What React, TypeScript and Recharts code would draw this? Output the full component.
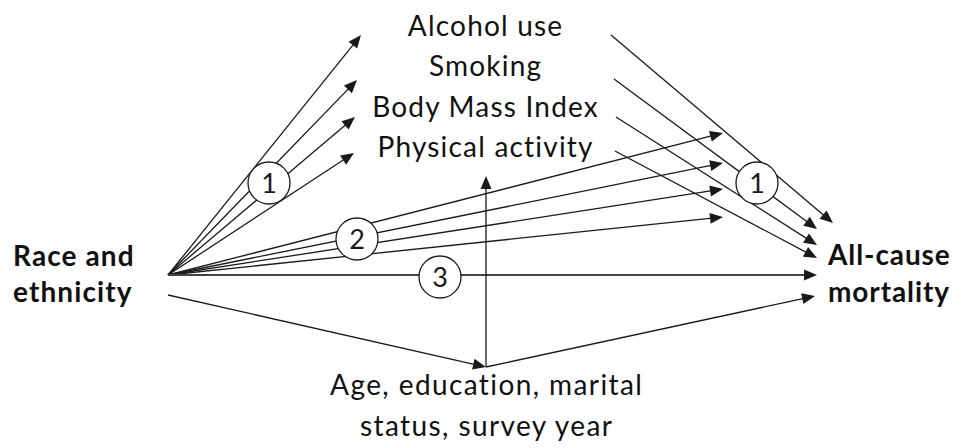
import React from 'react';
import { ComposedChart, XAxis, YAxis, ReferenceLine, ReferenceDot, Scatter } from 'recharts';

// Diagram nodes (data coordinates in a 955 x 448 frame)
const source = { x: 168, y: 275 };
const sourceLow = { x: 168, y: 295 };
const confounder = { x: 486, y: 367 };

const mediatorLabels = ['Alcohol use', 'Smoking', 'Body Mass Index', 'Physical activity'];
const mediatorBaselines = [36, 76, 117, 157];
const mediatorCenterX = 485;

// Path 1: exposure -> mediators
const path1InTips = [
  { x: 361, y: 35 },
  { x: 357, y: 80 },
  { x: 355, y: 117 },
  { x: 354, y: 153 },
];
// Path 1: mediators -> outcome
const path1OutStarts = [
  { x: 611, y: 35 },
  { x: 614, y: 79 },
  { x: 616, y: 117 },
  { x: 615, y: 151 },
];
const path1OutTips = [
  { x: 833, y: 223 },
  { x: 817, y: 229 },
  { x: 817, y: 245 },
  { x: 817, y: 258 },
];
// Path 2: exposure -> mediators (direct)
const path2Tips = [
  { x: 723, y: 133 },
  { x: 723, y: 163 },
  { x: 723, y: 189 },
  { x: 723, y: 217 },
];
// Path 3: direct effect
const path3Tip = { x: 817, y: 275 };
// Confounder arrows
const confounderUpTip = { x: 486, y: 176 };
const confounderOutTip = { x: 815, y: 296 };

const pathCircles = [
  { x: 269, y: 183, label: '1' },
  { x: 357, y: 239, label: '2' },
  { x: 440, y: 277, label: '3' },
  { x: 757, y: 183, label: '1' },
];

const exposureLines = ['Race and', 'ethnicity'];
const exposurePos = { x: 13, baselines: [266, 302] };
const outcomeLines = ['All-cause', 'mortality'];
const outcomePos = { x: 828, baselines: [265, 302] };
const confounderLines = ['Age, education, marital', 'status, survey year'];
const confounderTextPos = { x: 486, baselines: [395, 436] };

const FONT = 'Lato, "Open Sans", sans-serif';
const INK = '#1a1a1a';

type Seg = { from: { x: number; y: number }; to: { x: number; y: number }; arrow: boolean; w?: number; color?: string };

const segments: Seg[] = [
  ...path1InTips.map((t) => ({ from: source, to: t, arrow: true })),
  ...path1OutStarts.map((s, i) => ({ from: s, to: path1OutTips[i], arrow: true })),
  ...path2Tips.map((t) => ({ from: source, to: t, arrow: true })),
  { from: source, to: path3Tip, arrow: true, w: 2, color: '#444' },
  { from: sourceLow, to: confounder, arrow: true },
  { from: confounder, to: confounderUpTip, arrow: true },
  { from: confounder, to: confounderOutTip, arrow: true },
];

const ArrowShape = (props: any) => {
  const { x1, y1, x2, y2, stroke, strokeWidth } = props;
  const dx = x2 - x1;
  const dy = y2 - y1;
  const len = Math.sqrt(dx * dx + dy * dy) || 1;
  const ux = dx / len;
  const uy = dy / len;
  const headL = 13;
  const headW = 5.5;
  const bx = x2 - ux * headL;
  const by = y2 - uy * headL;
  const pts = `${x2},${y2} ${bx - uy * headW},${by + ux * headW} ${bx + uy * headW},${by - ux * headW}`;
  return (
    <g>
      <line x1={x1} y1={y1} x2={bx + ux * 2} y2={by + uy * 2} stroke={stroke} strokeWidth={strokeWidth} />
      <polygon points={pts} fill={INK} stroke="none" />
    </g>
  );
};

const CircleShape = (props: any) => {
  const { cx, cy, payload } = props;
  return (
    <g>
      <circle cx={cx} cy={cy} r={21} fill="#fff" stroke={INK} strokeWidth={1.3} />
      <text x={cx} y={cy + 9.5} textAnchor="middle" fontFamily={FONT} fontSize={27} fill={INK}>
        {payload.label}
      </text>
    </g>
  );
};

const textShape = (text: string, anchor: 'start' | 'middle', weight: number, size: number, spacing: number) => (props: any) => (
  <text
    x={anchor === 'middle' ? props.cx + spacing / 2 : props.cx}
    y={props.cy}
    textAnchor={anchor}
    fontFamily={FONT}
    fontWeight={weight}
    fontSize={size}
    letterSpacing={spacing}
    fill="#111"
  >
    {text}
  </text>
);

export default function App() {
  return (
    <div style={{ position: 'absolute', left: 0, top: 0, background: '#fff' }}>
      <ComposedChart width={955} height={448} margin={{ top: 0, right: 0, bottom: 0, left: 0 }} data={pathCircles}>
        <XAxis type="number" dataKey="x" domain={[0, 955]} hide allowDataOverflow />
        <YAxis type="number" dataKey="y" domain={[0, 448]} reversed hide allowDataOverflow />
        {segments.map((s, i) => (
          <ReferenceLine
            key={`seg-${i}`}
            segment={[s.from, s.to]}
            ifOverflow="visible"
            stroke={s.color || INK}
            strokeWidth={s.w || 1.3}
            shape={ArrowShape}
          />
        ))}
        <Scatter data={pathCircles} dataKey="y" isAnimationActive={false} shape={CircleShape} />
        {mediatorLabels.map((t, i) => (
          <ReferenceDot key={`m-${i}`} x={mediatorCenterX} y={mediatorBaselines[i]} r={0} ifOverflow="visible" shape={textShape(t, 'middle', 400, 28, 1.2)} />
        ))}
        {exposureLines.map((t, i) => (
          <ReferenceDot key={`e-${i}`} x={exposurePos.x} y={exposurePos.baselines[i]} r={0} ifOverflow="visible" shape={textShape(t, 'start', 700, 28, 1.1)} />
        ))}
        {outcomeLines.map((t, i) => (
          <ReferenceDot key={`o-${i}`} x={outcomePos.x} y={outcomePos.baselines[i]} r={0} ifOverflow="visible" shape={textShape(t, 'start', 700, 28, 0.9)} />
        ))}
        {confounderLines.map((t, i) => (
          <ReferenceDot key={`c-${i}`} x={confounderTextPos.x} y={confounderTextPos.baselines[i]} r={0} ifOverflow="visible" shape={textShape(t, 'middle', 400, 28, 1.4)} />
        ))}
      </ComposedChart>
    </div>
  );
}
